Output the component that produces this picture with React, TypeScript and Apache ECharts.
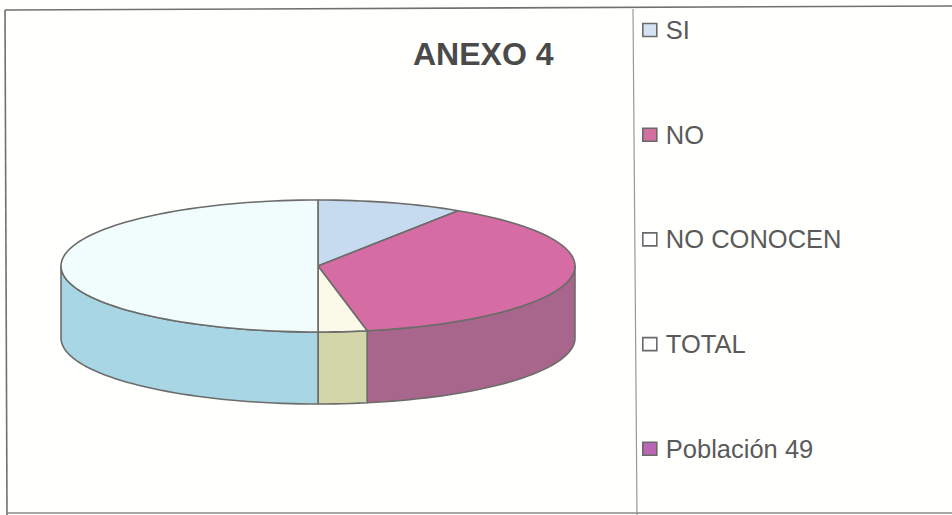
import React, { useEffect, useRef } from "react";
import * as echarts from "echarts";

const categories = ["SI", "NO", "NO CONOCEN", "TOTAL", "Población 49"];
const values = [9, 37, 3, 49, 0];
const topColors = ["#c6daf0", "#d56ca3", "#fbfae8", "#f1fcfd", "#b966b4"];
const sideColors = ["#8fa5c0", "#a9668c", "#d3d6a8", "#a8d6e5", "#8a4c87"];
const swatchColors = ["#d6e2f3", "#d2709f", "#ffffff", "#ffffff", "#b966b4"];

const CX = 318;
const CY = 266;
const RX = 257;
const RY = 66;
const DEPTH = 72;
const STROKE = "#6c6c6a";

const total = values.reduce((a, b) => a + b, 0);
const pt = (deg: number, dy = 0): number[] => {
  const r = (deg * Math.PI) / 180;
  return [CX + RX * Math.sin(r), CY - RY * Math.cos(r) + dy];
};
const arc = (a: number, b: number, dy = 0): number[][] => {
  const n = Math.max(2, Math.ceil(Math.abs(b - a) / 2));
  const out: number[][] = [];
  for (let i = 0; i <= n; i++) out.push(pt(a + ((b - a) * i) / n, dy));
  return out;
};

const renderSlice = (idx: number) => (_params: any, api: any) => {
  const v = api.value(0);
  if (!v) return { type: "group", children: [] };
  let before = 0;
  for (let i = 0; i < idx; i++) before += values[i];
  const a = (before / total) * 360;
  const b = ((before + v) / total) * 360;
  const children: any[] = [];
  const s = Math.max(a, 90);
  const e = Math.min(b, 270);
  if (e > s) {
    children.push({
      type: "polygon",
      shape: { points: [...arc(s, e), ...arc(e, s, DEPTH)] },
      style: { fill: sideColors[idx], stroke: STROKE, lineWidth: 1.6, lineJoin: "round" },
    });
  }
  children.push({
    type: "polygon",
    shape: { points: [[CX, CY], ...arc(a, b)] },
    style: { fill: topColors[idx], stroke: STROKE, lineWidth: 1.6, lineJoin: "round" },
  });
  return { type: "group", children };
};

export default function App() {
  const ref = useRef<HTMLDivElement>(null);
  useEffect(() => {
    document.body.style.margin = "0";
    document.body.style.background = "#ffffff";
    const chart = echarts.init(ref.current!, null, { renderer: "svg" });
    chart.setOption({
      animation: false,
      backgroundColor: "#fffffd",
      textStyle: { fontFamily: "Liberation Sans" },
      title: {
        text: "ANEXO 4",
        left: 413,
        top: 33,
        padding: [5, 0, 5, 0],
        textStyle: { fontSize: 32, fontWeight: "bold", color: "#4a4a4a", fontFamily: "Liberation Sans" },
      },
      legend: {
        orient: "vertical",
        left: 642,
        top: 17,
        padding: 0,
        itemGap: 78.7,
        itemWidth: 14,
        itemHeight: 13,
        selectedMode: false,
        textStyle: { fontSize: 25.5, color: "#5a5a5a", fontFamily: "Liberation Sans", padding: [0, 0, 0, 4] },
        data: categories.map((name, i) => ({
          name,
          icon: "rect",
          itemStyle: { color: swatchColors[i], borderColor: "#6a6a6a", borderWidth: 1.6 },
        })),
      },
      graphic: [
        { type: "polyline", shape: { points: [[5, 10], [952, 6]] }, style: { fill: "none", stroke: "#707070", lineWidth: 1.6 } },
        { type: "polyline", shape: { points: [[5, 10], [7, 515]] }, style: { fill: "none", stroke: "#707070", lineWidth: 1.6 } },
        { type: "polyline", shape: { points: [[633, 9], [637, 515]] }, style: { fill: "none", stroke: "#9a9a9a", lineWidth: 1.2 } },
        { type: "polyline", shape: { points: [[7, 513], [952, 513]] }, style: { fill: "none", stroke: "#8a8a8a", lineWidth: 1.4 } },
      ],
      series: categories.map((name, i) => ({
        type: "custom",
        name,
        coordinateSystem: "none",
        data: [[values[i]]],
        itemStyle: { color: swatchColors[i] },
        renderItem: renderSlice(i),
        silent: true,
      })),
    });
    return () => chart.dispose();
  }, []);
  return <div ref={ref} style={{ width: 952, height: 515 }} />;
}
